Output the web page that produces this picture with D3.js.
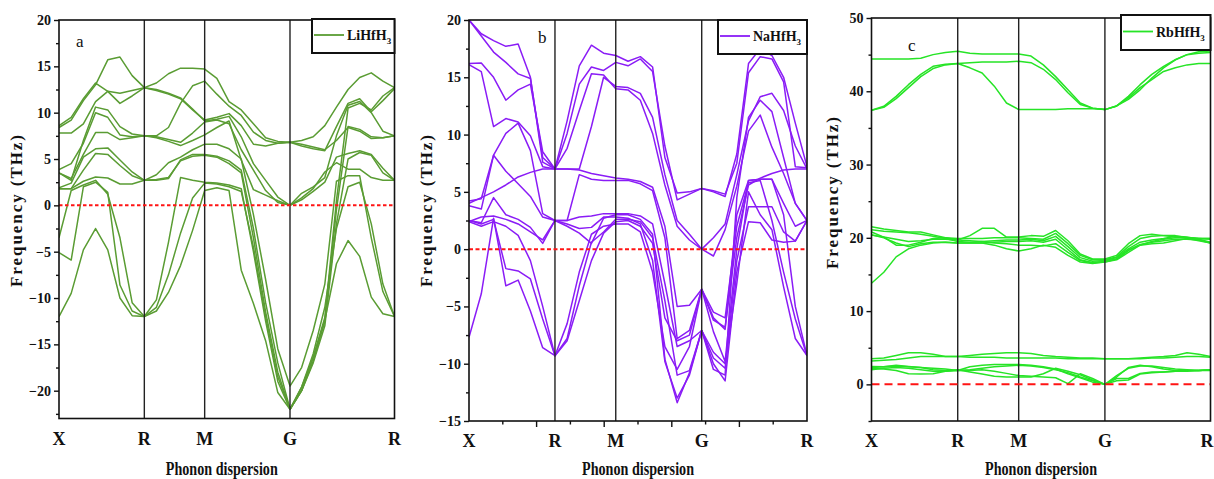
<!DOCTYPE html>
<html>
<head>
<meta charset="utf-8">
<script src="https://cdn.jsdelivr.net/npm/d3@7"></script>
<style>
  html, body { margin: 0; padding: 0; background: #fff; }
  svg { display: block; }
</style>
</head>
<body>
<svg id="chart" width="1214" height="479"></svg>
<script>
// High-symmetry points of the simple-cubic path X–R–M–G–R (path length, 2π/a units)
const kLabels = ["X", "R", "M", "G", "R"];
const kNodes = [0, 0.7071, 1.2071, 1.9142, 2.7802];
const segSteps = [7, 5, 7, 9];

// Phonon branches (THz) sampled on the k-path grid: 8 | 5 | 7 | 9 points per segment
const liBands = [
  [8.4, 9.2, 11.3, 13.0, 15.7, 16.0, 14.0, 12.7, 13.2, 14.2, 14.8, 14.8, 14.7, 13.7, 11.2, 10.3, 8.8, 7.3, 6.9, 6.8, 7.0, 7.4, 8.6, 10.6, 12.5, 13.8, 14.3, 13.4, 12.7],
  [8.6, 9.5, 11.5, 13.2, 12.3, 12.1, 12.4, 12.7, 12.4, 12.0, 11.5, 10.3, 9.2, 9.5, 9.9, 8.6, 6.6, 6.4, 6.7, 6.8, 6.4, 6.1, 5.9, 8.5, 11.0, 11.5, 10.1, 11.3, 12.6],
  [7.8, 7.8, 8.8, 11.2, 12.3, 11.0, 11.8, 12.7, 12.5, 12.1, 11.6, 10.4, 9.1, 9.3, 9.6, 7.4, 4.5, 2.7, 0.9, 0, 1.3, 2.0, 3.0, 7.5, 10.8, 11.2, 10.0, 8.0, 7.5],
  [3.5, 2.7, 7.0, 10.6, 10.3, 8.5, 7.7, 7.5, 7.5, 8.4, 11.0, 12.9, 13.4, 12.0, 10.7, 9.7, 7.9, 7.0, 6.7, 6.8, 6.6, 6.3, 6.0, 7.0, 8.4, 8.0, 7.2, 7.3, 7.5],
  [3.85, 4.5, 6.7, 10.0, 9.5, 7.6, 7.4, 7.5, 7.3, 6.9, 6.45, 7.0, 7.6, 8.4, 9.1, 4.9, 1.7, 1.1, 0.5, 0, 0.6, 1.5, 2.5, 5.2, 5.6, 5.9, 5.5, 4.0, 2.7],
  [3.5, 2.9, 5.5, 7.85, 7.85, 7.1, 7.3, 7.5, 7.4, 7.1, 6.8, 7.8, 9.0, 9.2, 8.8, 6.0, 3.8, 1.6, 0.3, 0, 0.8, 1.8, 3.6, 4.6, 3.9, 3.9, 3.0, 2.7, 2.7],
  [1.9, 2.4, 5.2, 6.1, 6.2, 4.9, 3.6, 2.7, 3.3, 4.6, 5.2, 6.0, 6.6, 6.6, 6.1, 5.0, -1.0, -8.0, -15.5, -19.5, -17.5, -13.5, -8.5, 2.6, 3.2, 3.2, -3.5, -9.3, -12],
  [1.8, 1.8, 3.8, 5.6, 5.5, 4.3, 3.2, 2.7, 2.7, 2.9, 4.9, 5.5, 5.5, 5.3, 4.8, 3.8, -2.5, -10.5, -17.0, -22, -19.6, -16.4, -12.1, 0.5, 10.5, 11.0, 10.3, 11.8, 12.7],
  [1.8, 1.8, 2.6, 3.05, 2.95, 2.3, 2.3, 2.7, 2.8, 3.0, 4.8, 5.3, 5.4, 5.2, 4.5, 3.5, -3.5, -11.5, -18.0, -22, -20.0, -16.8, -12.5, -0.5, 8.5, 8.2, 7.4, 7.3, 7.5],
  [-3.5, 1.6, 2.2, 2.7, 1.2, -3.5, -10.5, -12, -10.2, -4.0, 3.0, 2.7, 2.5, 2.4, 2.2, 1.8, -5.0, -12.5, -19.0, -22, -20.0, -17.0, -13.0, -2.0, 5.0, 5.7, 5.4, 3.5, 2.7],
  [-5.1, -5.9, 2.0, 2.5, 1.4, -8.6, -11.4, -12, -11.4, -9.4, -6.5, -2.7, 1.6, 1.9, 1.6, -7.0, -10.6, -14.6, -20.2, -22, -20.0, -16.4, -12.4, -6.3, -3.8, -5.5, -9.9, -11.7, -12],
  [-12, -9.5, -4.8, -2.5, -4.8, -10, -11.9, -12, -11.0, -7.5, -3.0, 0.8, 2.4, 2.3, 2.0, 1.5, -4.5, -12.0, -18.5, -22, -19.6, -16.0, -11.0, -2.5, 2.0, 2.5, -2.0, -8.5, -12]
];

const naBands = [
  [20.0, 18.8, 18.2, 17.7, 17.9, 15.0, 7.6, 7.0, 11.2, 16.0, 17.8, 17.1, 16.9, 16.4, 16.8, 15.9, 8.0, 4.9, 5.0, 5.3, 5.0, 4.6, 8.3, 16.2, 17.5, 16.9, 15.0, 11.0, 7.2],
  [20.0, 18.6, 17.2, 16.3, 15.3, 14.9, 8.0, 7.0, 10.1, 14.4, 15.9, 15.6, 16.3, 16.0, 16.6, 15.5, 9.0, 4.3, 4.8, 5.3, 5.1, 4.8, 7.5, 15.4, 16.8, 16.6, 14.6, 7.2, 7.1],
  [16.2, 16.25, 15.0, 13.0, 13.9, 14.4, 8.5, 7.0, 7.0, 7.0, 10.7, 15.0, 14.2, 14.1, 13.6, 11.5, 6.5, 2.5, 1.3, 0, 1.0, 2.2, 6.5, 11.2, 13.3, 13.6, 12.1, 9.0, 7.0],
  [16.1, 15.5, 10.7, 11.4, 11.1, 9.9, 7.2, 7.0, 8.8, 12.1, 15.3, 15.2, 14.0, 13.9, 13.0, 10.1, 5.6, 2.0, 0.8, 0, -0.6, 1.7, 5.5, 10.3, 11.7, 8.9, 6.6, 4.0, 2.5],
  [4.0, 4.5, 5.0, 5.6, 6.3, 6.7, 7.0, 7.0, 7.0, 6.9, 6.6, 6.4, 6.2, 6.1, 5.9, 5.4, 2.0, -5.0, -4.9, -3.5, -6.2, -6.8, 1.0, 5.6, 6.2, 6.6, 6.9, 7.0, 7.0],
  [4.2, 4.4, 8.2, 10.1, 11.0, 8.6, 3.1, 2.5, 2.5, 6.5, 6.1, 6.0, 6.0, 6.0, 5.7, 5.1, 1.0, -7.8, -7.1, -3.5, -7.2, -9.8, 0.0, 6.0, 6.1, 6.1, 4.0, 2.0, 2.5],
  [3.8, 3.5, 8.2, 6.8, 5.7, 4.6, 2.8, 2.5, 2.5, 2.8, 2.9, 3.1, 3.1, 3.1, 2.9, 2.2, -3.0, -8.5, -8.0, -7.1, -9.5, -10.4, -1.0, 3.7, 3.7, 3.7, 1.5, 0.7, 2.5],
  [2.5, 2.3, 4.5, 3.0, 2.6, 1.9, 0.5, 2.5, 2.0, 1.4, 0.5, 2.7, 3.0, 3.0, 2.6, 1.3, -9.6, -13.4, -10.8, -7.1, -10.0, -11.5, -2.0, 2.4, 2.3, 0.8, 0.6, 0.7, 2.5],
  [2.4, 2.8, 2.9, 2.6, 2.2, 1.5, 0.8, 2.5, 2.2, 1.8, 1.9, 2.8, 2.8, 2.7, 2.2, -1.0, -9.8, -13.0, -11.0, -7.1, -10.5, -11.0, 4.5, 11.5, 13.0, 12.0, 8.0, 4.0, 2.5],
  [-7.7, -3.9, 2.7, -3.2, -2.7, -5.4, -8.6, -9.3, -7.8, -3.2, 0.6, 1.5, 2.6, 2.6, 2.4, 1.0, -4.5, -11.0, -10.6, -7.1, -9.0, -10.0, -3.0, 5.0, 3.0, 1.7, -3.3, -7.8, -9.3],
  [2.5, 2.2, 2.6, -1.7, -1.9, -2.6, -6.1, -9.3, -8.0, -4.5, -1.0, 1.4, 2.4, 2.5, 2.0, 0.5, -6.0, -8.0, -7.5, -3.5, -5.5, -6.0, 2.0, 5.8, 6.0, 2.5, -2.0, -6.1, -9.3],
  [2.4, 2.0, 2.4, 2.0, 1.2, -1.0, -5.0, -9.3, -6.5, -2.0, 1.3, 2.0, 2.2, 2.2, 1.5, -2.0, -8.5, -10.5, -8.5, -3.5, -6.0, -7.0, 3.0, 6.0, 6.1, 6.1, 3.0, -5.0, -9.3]
];

const rbBands = [
  [44.4, 44.4, 44.4, 44.4, 44.5, 45.0, 45.3, 45.45, 45.2, 45.1, 45.1, 45.1, 45.1, 44.8, 43.6, 42.0, 40.2, 38.4, 37.7, 37.5, 38.0, 39.3, 40.9, 42.3, 43.4, 44.3, 45.0, 45.4, 45.5],
  [37.4, 37.95, 39.3, 40.9, 42.3, 43.4, 43.7, 43.8, 43.2, 42.5, 40.7, 38.4, 37.5, 37.5, 37.5, 37.5, 37.6, 37.6, 37.6, 37.5, 38.0, 39.1, 40.5, 41.6, 42.7, 43.2, 43.6, 43.8, 43.8],
  [37.4, 37.8, 39.0, 40.5, 42.0, 43.1, 43.6, 43.8, 43.9, 44.0, 44.0, 44.0, 44.1, 43.9, 43.0, 41.6, 39.8, 38.2, 37.7, 37.5, 38.0, 38.9, 40.2, 41.8, 43.2, 44.3, 45.0, 45.2, 45.3],
  [21.5, 21.2, 21.0, 20.8, 20.8, 20.4, 20.0, 19.7, 20.3, 21.3, 21.3, 20.1, 20.1, 20.3, 20.2, 21.0, 19.6, 17.8, 17.1, 17.1, 17.6, 19.2, 20.3, 20.5, 20.3, 20.1, 20.0, 19.9, 19.9],
  [20.8, 20.1, 19.0, 19.0, 19.4, 19.9, 20.0, 19.9, 19.9, 19.9, 20.0, 20.0, 20.0, 19.9, 19.8, 20.6, 19.2, 17.6, 17.0, 17.0, 17.4, 18.8, 19.9, 20.2, 20.3, 20.3, 20.0, 19.9, 19.9],
  [21.1, 20.9, 20.8, 20.7, 20.5, 20.2, 19.9, 19.5, 19.4, 19.5, 19.6, 19.7, 19.7, 19.8, 19.6, 20.2, 18.8, 17.3, 16.8, 16.9, 17.3, 18.5, 19.4, 19.7, 19.9, 20.2, 20.1, 19.8, 19.4],
  [20.4, 20.0, 19.3, 18.8, 19.2, 19.4, 19.4, 19.3, 19.3, 19.3, 19.4, 19.5, 19.5, 19.6, 19.4, 19.8, 18.4, 17.0, 16.6, 16.8, 17.1, 18.3, 19.1, 19.4, 19.6, 19.8, 19.8, 19.7, 19.3],
  [13.8, 15.3, 17.4, 18.5, 19.0, 19.3, 19.4, 19.3, 19.3, 19.3, 19.0, 18.5, 18.2, 18.5, 19.0, 18.7, 17.6, 16.7, 16.5, 16.7, 17.1, 18.3, 19.0, 19.2, 19.3, 19.6, 19.9, 19.6, 19.3],
  [20.4, 20.1, 19.8, 19.5, 19.6, 19.8, 19.8, 19.7, 19.6, 19.5, 19.3, 19.2, 19.0, 19.0, 18.9, 19.2, 18.0, 16.9, 16.6, 16.7, 17.0, 18.0, 19.0, 19.5, 19.8, 20.0, 20.0, 19.9, 19.8],
  [3.5, 3.6, 3.95, 4.3, 4.3, 4.1, 3.8, 3.8, 3.95, 4.1, 4.2, 4.3, 4.3, 4.2, 3.95, 3.8, 3.7, 3.6, 3.6, 3.5, 3.5, 3.5, 3.6, 3.7, 3.8, 3.95, 4.3, 4.1, 3.8],
  [3.2, 3.3, 3.4, 3.6, 3.8, 3.8, 3.8, 3.8, 3.7, 3.7, 3.7, 3.6, 3.6, 3.6, 3.6, 3.6, 3.5, 3.5, 3.5, 3.5, 3.5, 3.5, 3.5, 3.6, 3.6, 3.7, 3.8, 3.8, 3.7],
  [2.45, 2.4, 2.6, 2.45, 2.3, 2.0, 1.9, 1.9, 2.4, 2.6, 2.7, 2.7, 2.7, 2.6, 2.4, 2.1, 1.45, 0.9, 0.3, 0, 1.0, 2.3, 2.6, 2.4, 2.1, 1.9, 1.9, 1.9, 2.0],
  [2.2, 2.1, 1.9, 1.45, 1.4, 1.45, 1.8, 2.0, 1.7, 1.4, 1.1, 1.0, 1.0, 1.0, 1.45, 2.2, 1.8, 1.3, 0.6, 0, 0.8, 0.8, 1.5, 1.7, 1.7, 1.8, 1.9, 1.9, 2.0],
  [2.0, 2.2, 2.3, 2.2, 2.0, 1.8, 1.8, 1.9, 1.9, 2.0, 1.8, 1.5, 1.2, 1.1, 1.0, 0.9, 0.1, 1.45, 0.8, 0, 0.5, 0.6, 1.4, 1.6, 1.7, 1.8, 1.8, 1.9, 2.0],
  [2.3, 2.4, 2.5, 2.4, 2.3, 2.2, 2.1, 1.9, 2.0, 2.2, 2.4, 2.5, 2.6, 2.5, 2.3, 2.0, 1.6, 1.0, 0.5, 0, 1.2, 2.2, 2.5, 2.5, 2.3, 2.1, 2.0, 1.9, 1.9]
];

// Axis tick values (THz)
const liTicks = [-20, -15, -10, -5, 0, 5, 10, 15, 20];
const naTicks = [-15, -10, -5, 0, 5, 10, 15, 20];
const rbTicks = [0, 10, 20, 30, 40, 50];

// k-grid built from the segment subdivision
const kGrid = [];
segSteps.forEach((n, s) => {
  for (let j = 0; j < n; j++) kGrid.push(kNodes[s] + (kNodes[s + 1] - kNodes[s]) * j / n);
});
kGrid.push(kNodes[kNodes.length - 1]);

const W = 1214, H = 479;
const svg = d3.select("#chart");
svg.append("rect").attr("width", W).attr("height", H).attr("fill", "#fff");

const SERIF = "'Liberation Serif', 'Times New Roman', serif";

function drawPanel(p) {
  const x = d3.scaleLinear().domain([0, kNodes[4]]).range([p.left, p.right]);
  const y = d3.scaleLinear().domain(p.domain).range([p.bottom, p.top]);
  const g = svg.append("g");

  const clipId = "clip-" + p.id;
  svg.append("clipPath").attr("id", clipId)
    .append("rect").attr("x", p.left).attr("y", p.top)
    .attr("width", p.right - p.left).attr("height", p.bottom - p.top);

  // phonon branches
  const line = d3.line().x((d, i) => x(kGrid[i])).y(d => y(d));
  g.append("g").attr("clip-path", `url(#${clipId})`)
    .selectAll("path").data(p.bands).join("path")
    .attr("d", line)
    .attr("fill", "none")
    .attr("stroke", p.color)
    .attr("stroke-width", 1.5)
    .attr("stroke-linejoin", "round");

  // high-symmetry separators
  g.selectAll("line.sep").data(kNodes.slice(1, 4)).join("line")
    .attr("x1", d => x(d)).attr("x2", d => x(d))
    .attr("y1", p.top).attr("y2", p.bottom)
    .attr("stroke", "#222").attr("stroke-width", 1.4);

  // zero-frequency reference
  g.append("line")
    .attr("x1", p.left).attr("x2", p.right)
    .attr("y1", y(0)).attr("y2", y(0))
    .attr("stroke", "#ff1414").attr("stroke-width", 2)
    .attr("stroke-dasharray", p.dash);

  // frame
  g.append("rect")
    .attr("x", p.left).attr("y", p.top)
    .attr("width", p.right - p.left).attr("height", p.bottom - p.top)
    .attr("fill", "none").attr("stroke", "#111").attr("stroke-width", 1.6);

  // y axis: major + minor ticks
  const step = p.ticks[1] - p.ticks[0];
  const minors = p.ticks.map(t => t - step / 2).filter(m => m >= p.domain[0]);
  const yMinor = g.append("g").attr("transform", `translate(${p.left},0)`)
    .call(d3.axisLeft(y).tickValues(minors).tickSize(3).tickFormat(""));
  const yMajor = g.append("g").attr("transform", `translate(${p.left},0)`)
    .call(d3.axisLeft(y).tickValues(p.ticks).tickSize(5).tickPadding(3).tickFormat(d3.format("d")));
  [yMinor, yMajor].forEach(ax => {
    ax.select(".domain").remove();
    ax.selectAll("line").attr("stroke", "#111").attr("stroke-width", 1.4);
  });
  yMajor.selectAll("text")
    .attr("font-family", SERIF).attr("font-weight", "bold")
    .attr("font-size", 14).attr("fill", "#111");

  // bottom ticks (only on the middle panel)
  if (p.xTicks) {
    const tv = d3.range(1, 10).map(i => kNodes[4] * i / 10);
    g.selectAll("line.xt").data(tv).join("line")
      .attr("x1", d => x(d)).attr("x2", d => x(d))
      .attr("y1", p.bottom).attr("y2", (d, i) => p.bottom + (i % 2 ? 6 : 3.5))
      .attr("stroke", "#111").attr("stroke-width", 1.4);
  }

  // k-point labels (kept inside the page at the right edge)
  g.selectAll("text.kl").data(kNodes).join("text")
    .attr("x", d => Math.min(x(d), W - 7))
    .attr("y", p.bottom + 26)
    .attr("text-anchor", "middle")
    .attr("font-family", SERIF).attr("font-weight", "bold")
    .attr("font-size", 18).attr("fill", "#111")
    .text((d, i) => kLabels[i]);

  // axis titles
  g.append("text")
    .attr("x", (p.left + p.right) / 2 + p.xTitleShift).attr("y", 475)
    .attr("text-anchor", "middle")
    .attr("font-family", SERIF).attr("font-weight", "bold")
    .attr("font-size", 18).attr("fill", "#111")
    .attr("textLength", 112).attr("lengthAdjust", "spacingAndGlyphs")
    .text("Phonon dispersion");
  g.append("text")
    .attr("transform", `translate(${p.yTitleX},${p.yTitleY}) rotate(-90)`)
    .attr("text-anchor", "middle")
    .attr("font-family", SERIF).attr("font-weight", "bold")
    .attr("font-size", 17).attr("fill", "#111")
    .attr("textLength", 152).attr("lengthAdjust", "spacing")
    .text("Frequency (THz)");

  // panel letter
  g.append("text")
    .attr("x", p.letterX).attr("y", p.letterY)
    .attr("font-family", SERIF).attr("font-size", 17).attr("fill", "#111")
    .text(p.letter);

  // legend box
  const lb = p.legend;
  g.append("rect").attr("x", lb.x).attr("y", lb.y)
    .attr("width", p.right - lb.x).attr("height", lb.h)
    .attr("fill", "#fff").attr("stroke", "#111").attr("stroke-width", 2);
  g.append("line")
    .attr("x1", lb.x + 2).attr("x2", lb.x + 32)
    .attr("y1", lb.y + lb.h / 2 - 1).attr("y2", lb.y + lb.h / 2 - 1)
    .attr("stroke", p.color).attr("stroke-width", 1.8);
  const t = g.append("text")
    .attr("x", lb.x + 35).attr("y", lb.y + lb.h / 2 + 4)
    .attr("font-family", SERIF).attr("font-weight", "bold")
    .attr("font-size", 14).attr("fill", "#111");
  t.append("tspan").text(p.name);
  t.append("tspan").attr("font-size", 9).attr("dy", 4).text("3");
}

drawPanel({
  id: "li", left: 59, right: 394.5, top: 20, bottom: 418.5, domain: [-23, 20],
  ticks: liTicks, bands: liBands, color: "#5a9c33", dash: "3.5,2.5",
  name: "LiHfH", letter: "a", letterX: 76, letterY: 47,
  legend: { x: 312, y: 19, h: 34 }, xTicks: false,
  yTitleX: 22, yTitleY: 211, xTitleShift: -5
});
drawPanel({
  id: "na", left: 469, right: 807, top: 20, bottom: 421, domain: [-15, 20],
  ticks: naTicks, bands: naBands, color: "#8a1cf6", dash: "4,2.5",
  name: "NaHfH", letter: "b", letterX: 538, letterY: 43,
  legend: { x: 718, y: 20, h: 34 }, xTicks: true,
  yTitleX: 432, yTitleY: 211, xTitleShift: 0
});
drawPanel({
  id: "rb", left: 871.5, right: 1210.5, top: 18, bottom: 421, domain: [-5, 50],
  ticks: rbTicks, bands: rbBands, color: "#26e426", dash: "8,5",
  name: "RbHfH", letter: "c", letterX: 908, letterY: 51,
  legend: { x: 1121, y: 15, h: 35 }, xTicks: false,
  yTitleX: 838, yTitleY: 193, xTitleShift: 0
});
</script>
</body>
</html>
